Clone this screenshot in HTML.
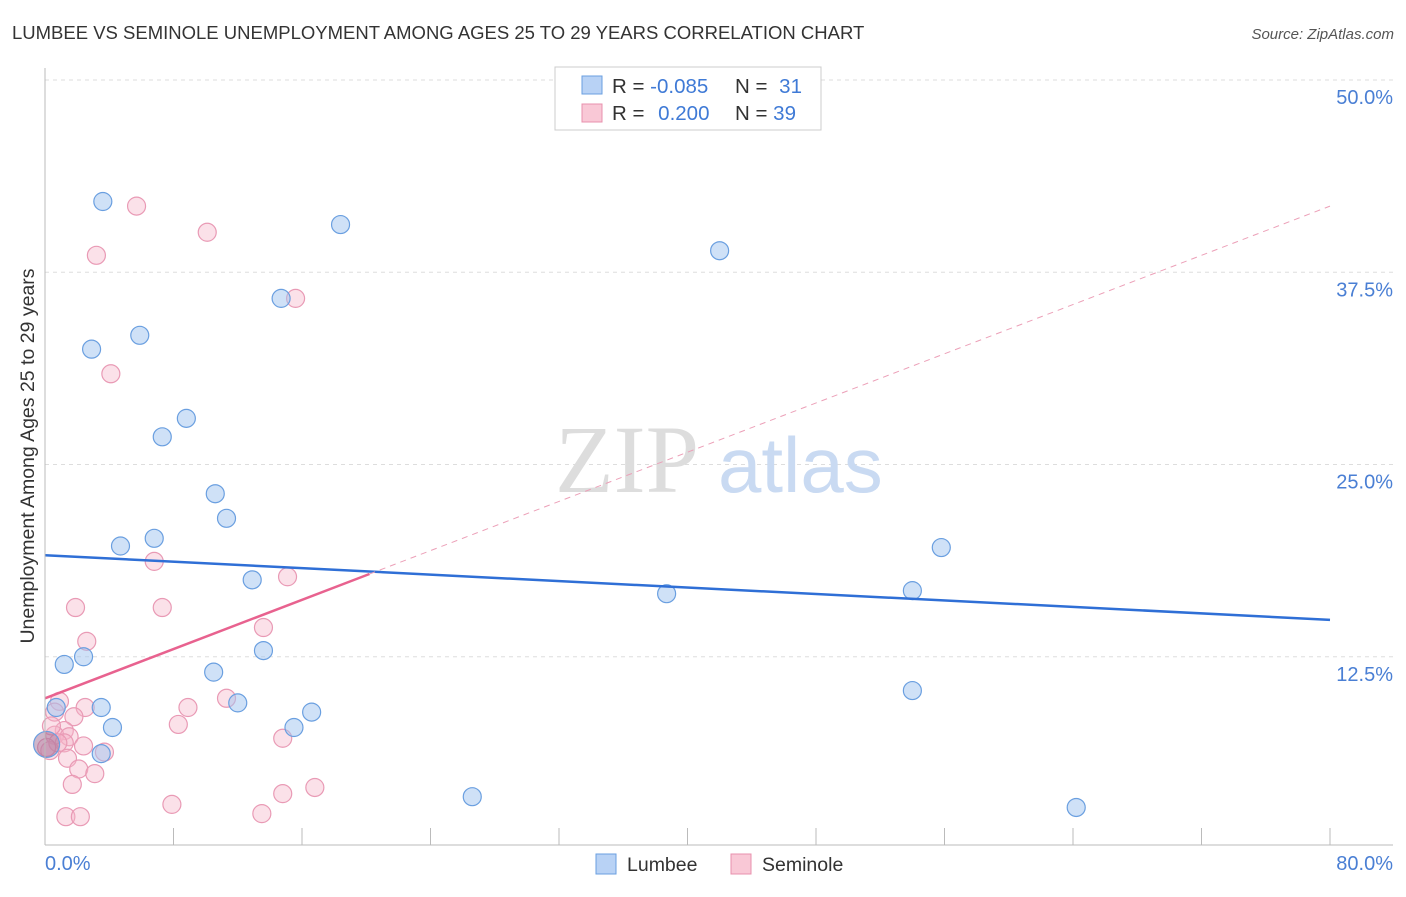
<!DOCTYPE html>
<html><head><meta charset="utf-8"><style>
body{margin:0;background:#fff;font-family:"Liberation Sans",sans-serif}
</style></head><body>
<svg id="chart" width="1406" height="892" xmlns="http://www.w3.org/2000/svg">
<text x="12" y="39" font-size="18.5" fill="#333">LUMBEE VS SEMINOLE UNEMPLOYMENT AMONG AGES 25 TO 29 YEARS CORRELATION CHART</text>
<text x="1394" y="39" font-size="15" fill="#555" text-anchor="end" font-style="italic">Source: ZipAtlas.com</text>
<text x="34" y="456" font-size="19.5" fill="#333" text-anchor="middle" transform="rotate(-90 34 456)">Unemployment Among Ages 25 to 29 years</text>
<g id="grid"></g><g id="ticks"></g>
<text x="555" y="492" font-size="96" fill="#ddd" font-family="Liberation Serif">ZIP</text>
<text x="718" y="492" font-size="78" fill="#c9daf2">atlas</text>
<g id="pts"></g><g id="lines"></g>
<line x1="45" y1="68" x2="45" y2="845" stroke="#bbb"/>
<line x1="45" y1="845" x2="1393" y2="845" stroke="#bbb"/>
<text x="45" y="870" font-size="20" fill="#4a7fd4">0.0%</text>
<text x="1393" y="870" font-size="20" fill="#4a7fd4" text-anchor="end">80.0%</text>
<g>
<rect x="555" y="67" width="266" height="63" fill="#fff" stroke="#ccc"/>
<rect x="582" y="76" width="20" height="18" fill="#b8d2f5" stroke="#6a9fe0"/>
<rect x="582" y="104" width="20" height="18" fill="#f9c8d6" stroke="#e890ad"/>
<text x="612" y="93" font-size="20.5" fill="#333">R = <tspan fill="#3f7ad6">-0.085</tspan></text>
<text x="735" y="93" font-size="20.5" fill="#333">N = <tspan fill="#3f7ad6" dx="6">31</tspan></text>
<text x="612" y="120" font-size="20.5" fill="#333">R = <tspan fill="#3f7ad6" dx="8">0.200</tspan></text>
<text x="735" y="120" font-size="20.5" fill="#333">N = <tspan fill="#3f7ad6">39</tspan></text>
</g>
<g>
<rect x="596" y="854" width="20" height="20" fill="#b8d2f5" stroke="#6a9fe0"/>
<text x="627" y="871" font-size="19.5" fill="#333">Lumbee</text>
<rect x="731" y="854" width="20" height="20" fill="#f9c8d6" stroke="#e890ad"/>
<text x="762" y="871" font-size="19.5" fill="#333">Seminole</text>
</g>
</svg>
<script>
const yTicks=[12.5,25,37.5,50];
const yTickLabels=["12.5%","25.0%","37.5%","50.0%"];
const xTicks=[8,16,24,32,40,48,56,64,72,80];
const lumbeeX=[3.6,18.4,42.0,14.7,5.9,2.9,8.8,7.3,10.6,11.3,6.8,4.7,55.8,12.9,54.0,38.7,13.6,2.4,1.2,10.5,54.0,12.0,16.6,3.5,0.7,4.2,15.5,3.5,0.1,26.6,64.2];
const lumbeeY=[42.1,40.6,38.9,35.8,33.4,32.5,28.0,26.8,23.1,21.5,20.2,19.7,19.6,17.5,16.8,16.6,12.9,12.5,12.0,11.5,10.3,9.5,8.9,9.2,9.2,7.9,7.9,6.2,6.8,3.4,2.7];
const seminoleX=[5.7,10.1,3.2,15.6,4.1,6.8,15.1,1.9,7.3,13.6,2.6,11.3,0.9,8.9,2.5,1.8,0.6,8.3,1.2,0.6,1.5,14.8,2.4,1.2,3.7,0.3,1.4,2.1,3.1,1.7,7.9,14.8,16.8,1.3,2.2,13.5,0.4,0.8,0.1];
const seminoleY=[41.8,40.1,38.6,35.8,30.9,18.7,17.7,15.7,15.7,14.4,13.5,9.8,9.6,9.2,9.2,8.6,8.9,8.1,7.7,7.4,7.3,7.2,6.7,6.9,6.3,6.4,5.9,5.2,4.9,4.2,2.9,3.6,4.0,2.1,2.1,2.3,8.0,6.9,6.6];
const lumbeeTrend=[19.1,14.9];
const seminoleTrend=[9.8,41.8];
const seminoleSolidEnd=20.2;
const NS="http://www.w3.org/2000/svg";
const sx=v=>45+v/80*1285, sy=v=>849-v/50*769;
function mk(t,a,p){const e=document.createElementNS(NS,t);for(const k in a)e.setAttribute(k,a[k]);p.appendChild(e);return e;}
const grid=document.getElementById('grid'),ticks=document.getElementById('ticks'),pts=document.getElementById('pts'),lines=document.getElementById('lines');
yTicks.forEach((t,i)=>{
 const l=mk('line',{x1:45,x2:1393,y1:sy(t),y2:sy(t),stroke:'#ddd','stroke-dasharray':'4 4'},grid);
 
 
 const tx=mk('text',{x:1393,y:sy(t)+24,'font-size':20,fill:'#4a7fd4','text-anchor':'end'},grid);
 tx.textContent=yTickLabels[i];
 
 
});
xTicks.forEach(t=>{
 const l=mk('line',{x1:sx(t),x2:sx(t),y1:828,y2:845,stroke:'#bbb'},ticks);
 
 
});
function draw(xs,ys,fill,stroke,name){
 xs.forEach((x,i)=>{
  const big=(x<0.2&&name==='lumbee-point');
  const c=mk('circle',{cx:sx(x),cy:sy(ys[i]),r:big?13:9,fill:big?'rgba(160,110,150,0.5)':fill,stroke:stroke,'stroke-width':1.2},pts);
  
  
 });
}
draw(seminoleX,seminoleY,'rgba(245,180,200,0.4)','#e99ab5','seminole-point');
draw(lumbeeX,lumbeeY,'rgba(160,196,240,0.5)','#6a9fe0','lumbee-point');
const bl=mk('line',{x1:sx(0),y1:sy(lumbeeTrend[0]),x2:sx(80),y2:sy(lumbeeTrend[1]),stroke:'#2f6fd6','stroke-width':2.5},lines);


const se=seminoleTrend[0]+(seminoleTrend[1]-seminoleTrend[0])*seminoleSolidEnd/80;
const pl=mk('line',{x1:sx(0),y1:sy(seminoleTrend[0]),x2:sx(seminoleSolidEnd),y2:sy(se),stroke:'#e8628f','stroke-width':2.5},lines);


const pd=mk('line',{x1:sx(seminoleSolidEnd),y1:sy(se),x2:sx(80),y2:sy(seminoleTrend[1]),stroke:'#eca0b8','stroke-width':1,'stroke-dasharray':'6 5'},lines);


</script>
</body></html>
